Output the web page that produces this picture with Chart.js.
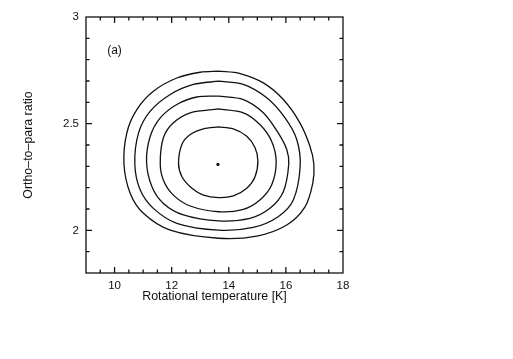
<!DOCTYPE html>
<html>
<head>
<meta charset="utf-8">
<script src="https://cdn.jsdelivr.net/npm/chart.js@4.4.0/dist/chart.umd.min.js"></script>
<style>
  html, body { margin: 0; padding: 0; background: #fff; }
  #wrap { width: 513px; height: 359px; }
</style>
</head>
<body>
<div id="wrap"><canvas id="chart" width="513" height="359"></canvas></div>
<script>
(function () {
  'use strict';

  // --- Axis ranges and tick labels ---
  var xMin = 9, xMax = 18;
  var yMin = 1.8, yMax = 3;
  var xTickValues = [10, 12, 14, 16, 18];
  var xTickLabels = ['10', '12', '14', '16', '18'];
  var yTickValues = [2, 2.5, 3];
  var yTickLabels = ['2', '2.5', '3'];

  // --- Confidence contours, outermost first (T_rot, OPR) ---
  var contour1 = [
    [13.64, 2.746], [14.40, 2.735], [15.21, 2.691], [15.91, 2.613], [16.49, 2.504],
    [16.84, 2.395], [16.98, 2.310], [16.94, 2.220], [16.67, 2.110], [16.03, 2.025],
    [14.98, 1.973], [13.64, 1.963], [11.95, 2.001], [11.01, 2.080], [10.55, 2.173],
    [10.33, 2.310], [10.43, 2.457], [10.78, 2.566], [11.36, 2.652],
    [12.18, 2.714], [13.00, 2.741], [13.64, 2.746]
  ];
  var contour2 = [
    [13.64, 2.699], [14.51, 2.684], [15.33, 2.621], [15.97, 2.527], [16.38, 2.426],
    [16.50, 2.300], [16.26, 2.142], [15.73, 2.064], [14.86, 2.014],
    [13.64, 2.001], [12.18, 2.033], [11.36, 2.103], [10.90, 2.189],
    [10.71, 2.310], [10.84, 2.457], [11.25, 2.559], [11.95, 2.637], [12.76, 2.684],
    [13.64, 2.699]
  ];
  var contour3 = [
    [13.64, 2.629], [14.51, 2.613], [15.21, 2.551], [15.73, 2.457], [16.03, 2.379],
    [16.10, 2.310], [15.91, 2.181], [15.44, 2.103], [14.74, 2.056],
    [13.64, 2.044], [12.41, 2.072], [11.71, 2.126], [11.31, 2.204],
    [11.12, 2.320], [11.25, 2.441], [11.60, 2.527], [12.18, 2.590], [12.88, 2.625],
    [13.64, 2.629]
  ];
  var contour4 = [
    [13.64, 2.569], [14.51, 2.551], [15.09, 2.496], [15.50, 2.418], [15.66, 2.320],
    [15.50, 2.212], [15.09, 2.142], [14.51, 2.098], [13.64, 2.087],
    [12.65, 2.114], [12.06, 2.165], [11.71, 2.235], [11.60, 2.314], [11.71, 2.434],
    [12.06, 2.504], [12.65, 2.551], [13.64, 2.569]
  ];
  var contour5 = [
    [13.64, 2.485], [14.16, 2.476], [14.63, 2.441], [14.92, 2.387], [15.02, 2.325],
    [14.92, 2.251], [14.63, 2.197], [14.16, 2.161], [13.64, 2.153],
    [13.11, 2.165], [12.71, 2.197], [12.36, 2.251], [12.24, 2.314], [12.36, 2.403],
    [12.65, 2.449], [13.11, 2.476], [13.64, 2.485]
  ];
  var bestFit = [[13.62, 2.309]];
  var contours = [contour1, contour2, contour3, contour4, contour5];

  var panelLabel = '(a)';
  var panelLabelPos = [9.74, 2.844];

  // --- Styles ---
  var ink = '#111111';
  var fontFamily = "'Liberation Sans', Arial, Helvetica, sans-serif";

  function toPoints(pairs) {
    return pairs.map(function (p) { return { x: p[0], y: p[1] }; });
  }

  var datasets = contours.map(function (c) {
    return {
      data: toPoints(c),
      showLine: true,
      borderColor: ink,
      borderWidth: 1.3,
      pointRadius: 0,
      tension: 0.3,
      fill: false
    };
  });
  datasets.push({
    data: toPoints(bestFit),
    showLine: false,
    pointRadius: 1.6,
    pointBackgroundColor: ink,
    pointBorderWidth: 0
  });

  // Frame with inward ticks on all four sides, plus the panel label
  var framePlugin = {
    id: 'frame',
    afterDatasetsDraw: function (chart) {
      var ctx = chart.ctx;
      var a = chart.chartArea;
      var xs = chart.scales.x;
      var ys = chart.scales.y;
      var v, px, py, len, i;
      ctx.save();
      ctx.strokeStyle = ink;
      ctx.lineWidth = 1.3;
      ctx.strokeRect(a.left, a.top, a.right - a.left, a.bottom - a.top);
      ctx.beginPath();
      for (v = xMin + 0.5; v < xMax; v += 0.5) {
        px = xs.getPixelForValue(v);
        len = (v % 2 === 0) ? 6 : 3.5;
        ctx.moveTo(px, a.bottom); ctx.lineTo(px, a.bottom - len);
        ctx.moveTo(px, a.top); ctx.lineTo(px, a.top + len);
      }
      for (i = 19; i < 30; i++) {
        py = ys.getPixelForValue(i / 10);
        len = (i % 5 === 0) ? 6 : 3.5;
        ctx.moveTo(a.left, py); ctx.lineTo(a.left + len, py);
        ctx.moveTo(a.right, py); ctx.lineTo(a.right - len, py);
      }
      ctx.stroke();
      ctx.fillStyle = ink;
      ctx.font = '12px ' + fontFamily;
      ctx.textAlign = 'left';
      ctx.textBaseline = 'middle';
      ctx.fillText(panelLabel, xs.getPixelForValue(panelLabelPos[0]), ys.getPixelForValue(panelLabelPos[1]));
      ctx.restore();
    }
  };

  new Chart(document.getElementById('chart').getContext('2d'), {
    type: 'scatter',
    data: { datasets: datasets },
    options: {
      responsive: false,
      animation: false,
      layout: { padding: { left: 0, top: 17, right: 170, bottom: 0 } },
      plugins: {
        legend: { display: false },
        tooltip: { enabled: false }
      },
      scales: {
        x: {
          type: 'linear',
          min: xMin,
          max: xMax,
          grid: { display: false, drawTicks: false },
          border: { display: false },
          afterBuildTicks: function (s) {
            s.ticks = xTickValues.map(function (t) { return { value: t }; });
          },
          afterFit: function (s) { s.height = 86; },
          ticks: {
            color: ink,
            padding: 6,
            maxRotation: 0,
            font: { family: fontFamily, size: 11.5 },
            callback: function (val) { return xTickLabels[xTickValues.indexOf(val)]; }
          },
          title: {
            display: true,
            text: 'Rotational temperature [K]',
            color: ink,
            font: { family: fontFamily, size: 12.4 },
            padding: { top: 0, bottom: 55 }
          }
        },
        y: {
          type: 'linear',
          min: yMin,
          max: yMax,
          grid: { display: false, drawTicks: false },
          border: { display: false },
          afterBuildTicks: function (s) {
            s.ticks = yTickValues.map(function (t) { return { value: t }; });
          },
          afterFit: function (s) { s.width = 86; },
          ticks: {
            color: ink,
            padding: 7,
            font: { family: fontFamily, size: 11.5 },
            callback: function (val) { return yTickLabels[yTickValues.indexOf(val)]; }
          },
          title: {
            display: true,
            text: 'Ortho\u2013to\u2013para ratio',
            color: ink,
            font: { family: fontFamily, size: 12.4 },
            padding: { top: 21.5, bottom: 0 }
          }
        }
      }
    },
    plugins: [framePlugin]
  });
})();
</script>
</body>
</html>
